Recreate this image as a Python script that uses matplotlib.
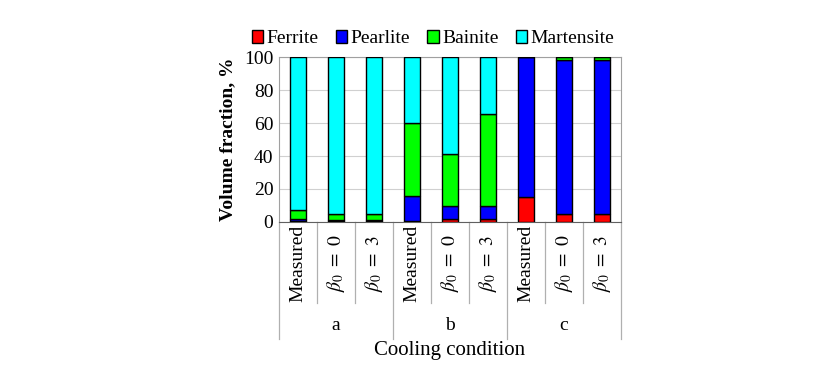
import matplotlib.pyplot as plt
import matplotlib.transforms as mtransforms
import numpy as np

plt.rcParams["font.family"] = ["Liberation Serif", "DejaVu Serif"]
plt.rcParams["mathtext.fontset"] = "stix"

# Categories
groups = ["a", "b", "c"]
cases = ["Measured", r"$\beta_0\ =\ 0$", r"$\beta_0\ =\ 3$"]

# Phase fractions (%) per bar: a-Measured, a-b0=0, a-b0=3, b-..., c-...
ferrite = [0.5, 0.5, 0.5, 0.5, 1.5, 1.5, 15, 5, 5]
pearlite = [1.5, 0.5, 0.5, 15.5, 8, 8, 85, 93, 93]
bainite = [5, 4, 4, 44, 31.5, 56, 0, 2, 2]
martensite = [93, 95, 95, 40, 59, 34.5, 0, 0, 0]

phases = {
    "Ferrite": (ferrite, "#ff0000"),
    "Pearlite": (pearlite, "#0000ff"),
    "Bainite": (bainite, "#00ff00"),
    "Martensite": (martensite, "#00ffff"),
}

fig = plt.figure(figsize=(8.38, 3.86), dpi=100)
ax = fig.add_axes([0.333, 0.425, 0.408, 0.427])

x = np.arange(len(ferrite))
bottom = np.zeros(len(x))
for name, (vals, color) in phases.items():
    ax.bar(x, vals, 0.4, bottom=bottom, color=color, edgecolor="black",
           linewidth=1, label=name, zorder=3)
    bottom += np.array(vals)

ax.set_xlim(-0.5, len(x) - 0.5)
ax.set_ylim(0, 100)
ax.set_yticks(range(0, 101, 20))
ax.yaxis.grid(True, color="#d0d0d0", linewidth=0.8, zorder=0)
ax.set_xticks([])
ax.tick_params(axis="y", labelsize=14, length=0, pad=4)
for s in ax.spines.values():
    s.set_color("#a0a0a0")
ax.spines["bottom"].set_color("#606060")
ax.set_ylabel("Volume fraction, %", fontsize=14, fontweight="bold", labelpad=6)

# category labels and separators below the axis
trans = mtransforms.blended_transform_factory(ax.transData, ax.transAxes)
for i in x:
    ax.text(i, -0.25, cases[i % 3], rotation=90, ha="center", va="center",
            fontsize=14, transform=trans)
for b in np.arange(-0.5, len(x), 1.0):
    end = -0.71 if (b + 0.5) % 3 == 0 else -0.49
    ax.plot([b, b], [0, end], color="#b0b0b0", linewidth=0.9,
            transform=trans, clip_on=False)
for g, name in enumerate(groups):
    ax.text(3 * g + 1, -0.63, name, ha="center", va="center",
            fontsize=14, transform=trans)
ax.text(0.5, -0.78, "Cooling condition", ha="center", va="center",
        fontsize=15, transform=ax.transAxes)

ax.legend(loc="lower center", bbox_to_anchor=(0.45, 1.0), ncol=4, frameon=False,
          fontsize=14, handlelength=0.6, handleheight=0.6, handletextpad=0.15,
          columnspacing=0.9, borderaxespad=0.1)

fig.savefig("out.png", dpi=100)
